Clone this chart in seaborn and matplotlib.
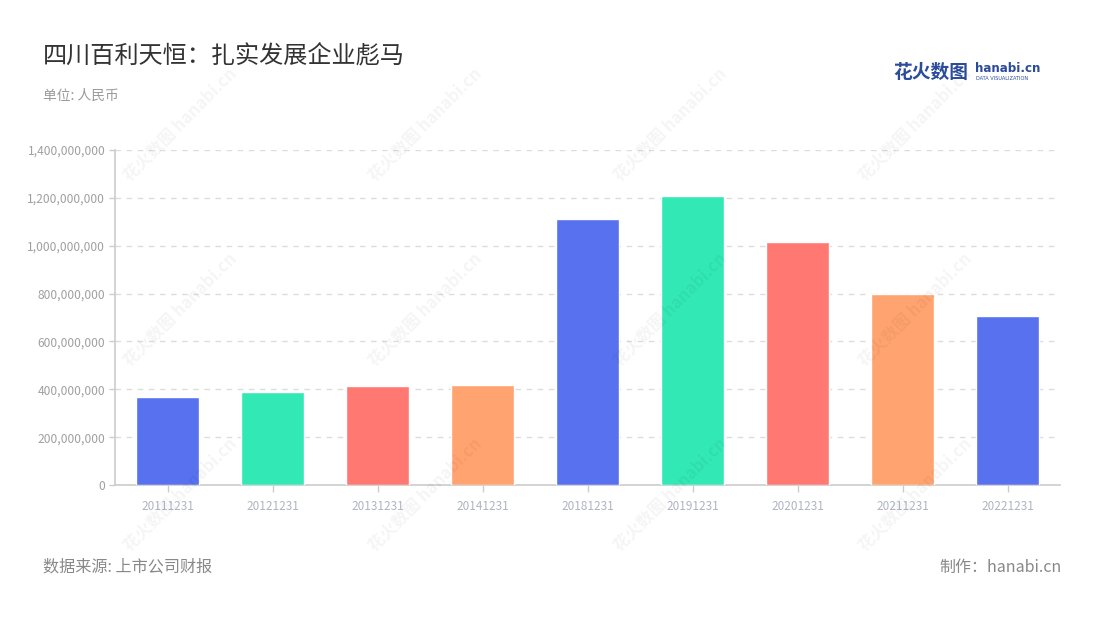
import matplotlib
matplotlib.use("Agg")
import matplotlib.pyplot as plt
import matplotlib.ticker as mticker
import seaborn as sns
import pandas as pd

# ---- data ----
categories = ["20111231", "20121231", "20131231", "20141231", "20181231",
              "20191231", "20201231", "20211231", "20221231"]
values = [367e6, 389e6, 415e6, 418e6, 1112e6, 1208e6, 1014e6, 798e6, 705e6]
bar_colors = ["#5871EE", "#32E8B5", "#FF7872", "#FFA370", "#5871EE",
              "#32E8B5", "#FF7872", "#FFA370", "#5871EE"]
y_ticks = [0, 200e6, 400e6, 600e6, 800e6, 1000e6, 1200e6, 1400e6]

title = "四川百利天恒：扎实发展企业彪马"
unit = "单位: 人民币"
source = "数据来源: 上市公司财报"
maker = "制作：hanabi.cn"

sns.set_theme(style="white")
plt.rcParams['font.family'] = ['Noto Sans CJK SC', 'DejaVu Sans']

fig = plt.figure(figsize=(11, 6.2), dpi=100)
ax = fig.add_axes([115 / 1100, 1 - 485 / 620, 945 / 1100, 335 / 620])

df = pd.DataFrame({"cat": categories, "val": values})
sns.barplot(data=df, x="cat", y="val", hue="cat", palette=bar_colors,
            legend=False, width=0.6, ax=ax, saturation=1, zorder=3)

ax.set_xlim(-0.5, len(categories) - 0.5)
ax.set_ylim(0, 1400e6)
ax.set_yticks(y_ticks)
ax.yaxis.set_major_formatter(mticker.FuncFormatter(lambda v, p: f"{int(v):,}"))
ax.set_xlabel("")
ax.set_ylabel("")

for s in ["top", "right"]:
    ax.spines[s].set_visible(False)
for s in ["left", "bottom"]:
    ax.spines[s].set_color("#CCCCCC")
    ax.spines[s].set_linewidth(1.2)

ax.grid(axis="y", color="#DDDDDD", linestyle=(0, (4, 4)), linewidth=1, zorder=0)
ax.set_axisbelow(True)
ax.tick_params(axis="y", colors="#CCCCCC", labelcolor="#A0A0A0", labelsize=8.7,
               length=4, width=1, direction="out", left=True, pad=3)
ax.tick_params(axis="x", colors="#CCCCCC", labelcolor="#AEB4C2", labelsize=8.5,
               length=5, width=1, direction="out", bottom=True, pad=6)

# watermarks
wm_cols = [180, 425, 670, 915]
wm_rows = [125, 310, 495]
for cx in wm_cols:
    for cy in wm_rows:
        fig.text(cx / 1100, 1 - cy / 620, "花火数图 hanabi.cn", rotation=45,
                 ha="center", va="center", fontsize=12, color="#000000",
                 alpha=0.045, fontweight="bold", zorder=10)

# title & subtitle
fig.text(43 / 1100, 1 - 56 / 620, title, fontsize=17.4, color="#333333",
         ha="left", va="center")
fig.text(43 / 1100, 1 - 96 / 620, unit, fontsize=9.9, color="#999999",
         ha="left", va="center")

# logo
fig.text(893 / 1100, 1 - 72 / 620, "花火数图", fontsize=13.5, color="#2B4C9B",
         fontweight="bold", ha="left", va="center")
fig.text(975 / 1100, 1 - 69 / 620, "hanabi.cn", fontsize=8.6, color="#2B4C9B",
         fontweight="bold", ha="left", va="center", family=["DejaVu Sans"])
fig.text(976 / 1100, 1 - 79 / 620, "DATA VISUALIZATION", fontsize=3.6,
         color="#2B4C9B", ha="left", va="center", family=["DejaVu Sans"])

# footer
fig.text(43 / 1100, 1 - 567 / 620, source, fontsize=11.6, color="#888888",
         ha="left", va="center")
fig.text(1062 / 1100, 1 - 567 / 620, maker, fontsize=11.5, color="#888888",
         ha="right", va="center")

fig.savefig("out.png", dpi=100, facecolor="white")
